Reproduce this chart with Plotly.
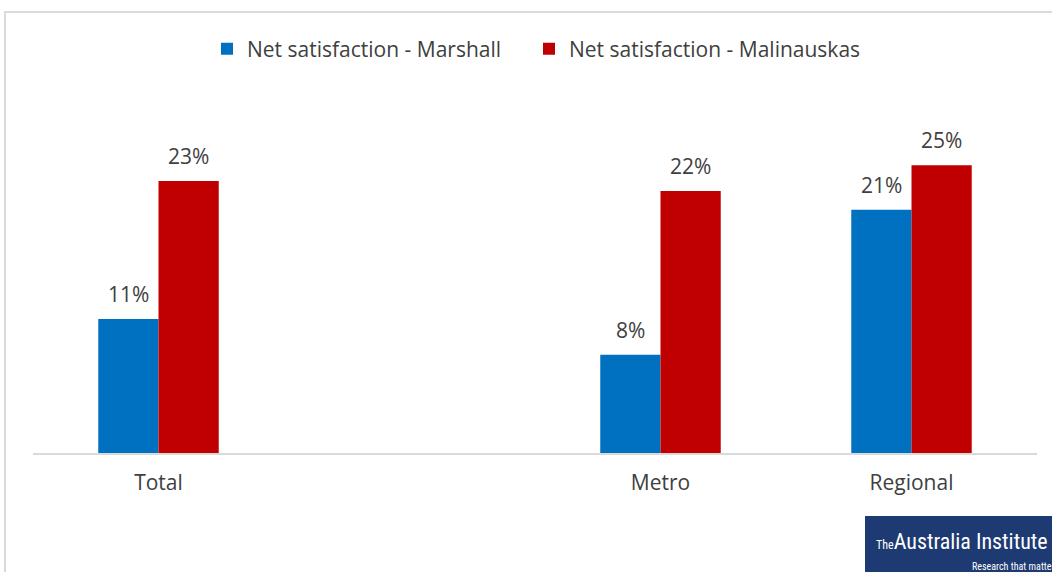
import plotly.graph_objects as go

categories = ["Total", " ", "Metro", "Regional"]
marshall = [11.45, None, 8.4, 20.8]
malinauskas = [23.25, None, 22.4, 24.6]
series_names = ["Net satisfaction - Marshall", "Net satisfaction - Malinauskas"]
colors = ["#0070C0", "#C00000"]

FONT = "Open Sans"
TXT = "#404040"

def px_x(p):
    return (p - 33) / 1004

def px_y(p):
    return (453 - p) / 374

fig = go.Figure()
for name, vals, col, lg in zip(series_names, [marshall, malinauskas], colors, ["legend", "legend2"]):
    fig.add_trace(go.Bar(x=categories, y=vals, name=name, marker_color=col,
                         marker_line_width=0, legend=lg))

ann = []
for vals, shift in [(marshall, -30), (malinauskas, 30)]:
    for c, v in zip(categories, vals):
        if v is None:
            continue
        ann.append(dict(x=c, y=v, xref="x", yref="y", text=f"{round(v)}%",
                        showarrow=False, xshift=shift, yshift=9, yanchor="bottom",
                        font=dict(family=FONT, size=21, color=TXT)))

LOGO_FONT = "Liberation Sans Narrow, Roboto Condensed, Arial Narrow, sans-serif"
ann.append(dict(xref="paper", yref="paper", x=px_x(874), y=px_y(541),
                xanchor="left", yanchor="middle", showarrow=False,
                text="<span style='font-size:12px'>The</span>Australia Institute",
                font=dict(family=LOGO_FONT, size=22, color="white")))
ann.append(dict(xref="paper", yref="paper", x=px_x(970), y=px_y(566),
                xanchor="left", yanchor="middle", showarrow=False,
                text="Research that matters",
                font=dict(family=LOGO_FONT, size=10, color="white")))

shapes = [
    dict(type="line", xref="paper", yref="paper", x0=px_x(4), x1=px_x(1060),
         y0=px_y(12), y1=px_y(12), line=dict(color="#D9D9D9", width=2), layer="below"),
    dict(type="line", xref="paper", yref="paper", x0=px_x(5), x1=px_x(5),
         y0=px_y(12), y1=px_y(580), line=dict(color="#D9D9D9", width=2), layer="below"),
    dict(type="rect", xref="paper", yref="paper", x0=px_x(865), x1=px_x(1060),
         y0=px_y(580), y1=px_y(516), fillcolor="#1E3A72", line=dict(width=0)),
]

legend_common = dict(orientation="h", xanchor="left", y=px_y(49), yanchor="middle",
                     font=dict(family=FONT, size=21, color=TXT), bgcolor="rgba(0,0,0,0)")

fig.update_layout(
    width=1052, height=572,
    margin=dict(l=33, r=15, t=79, b=119),
    paper_bgcolor="white", plot_bgcolor="white",
    barmode="group", bargap=0.52, bargroupgap=0,
    font=dict(family=FONT, size=20, color=TXT),
    legend=dict(x=px_x(207), **legend_common),
    legend2=dict(x=px_x(529), **legend_common),
    xaxis=dict(showline=True, linecolor="#D9D9D9", linewidth=2, ticks="outside",
               ticklen=10, tickcolor="rgba(0,0,0,0)",
               tickfont=dict(family=FONT, size=21, color=TXT), showgrid=False),
    yaxis=dict(range=[0, 31.97], visible=False, showgrid=False, zeroline=False),
    showlegend=True,
    annotations=ann,
    shapes=shapes,
)

fig.write_html("out.html", config={"displayModeBar": False},
               post_script="document.body.style.margin='0';document.body.style.overflow='hidden';")
